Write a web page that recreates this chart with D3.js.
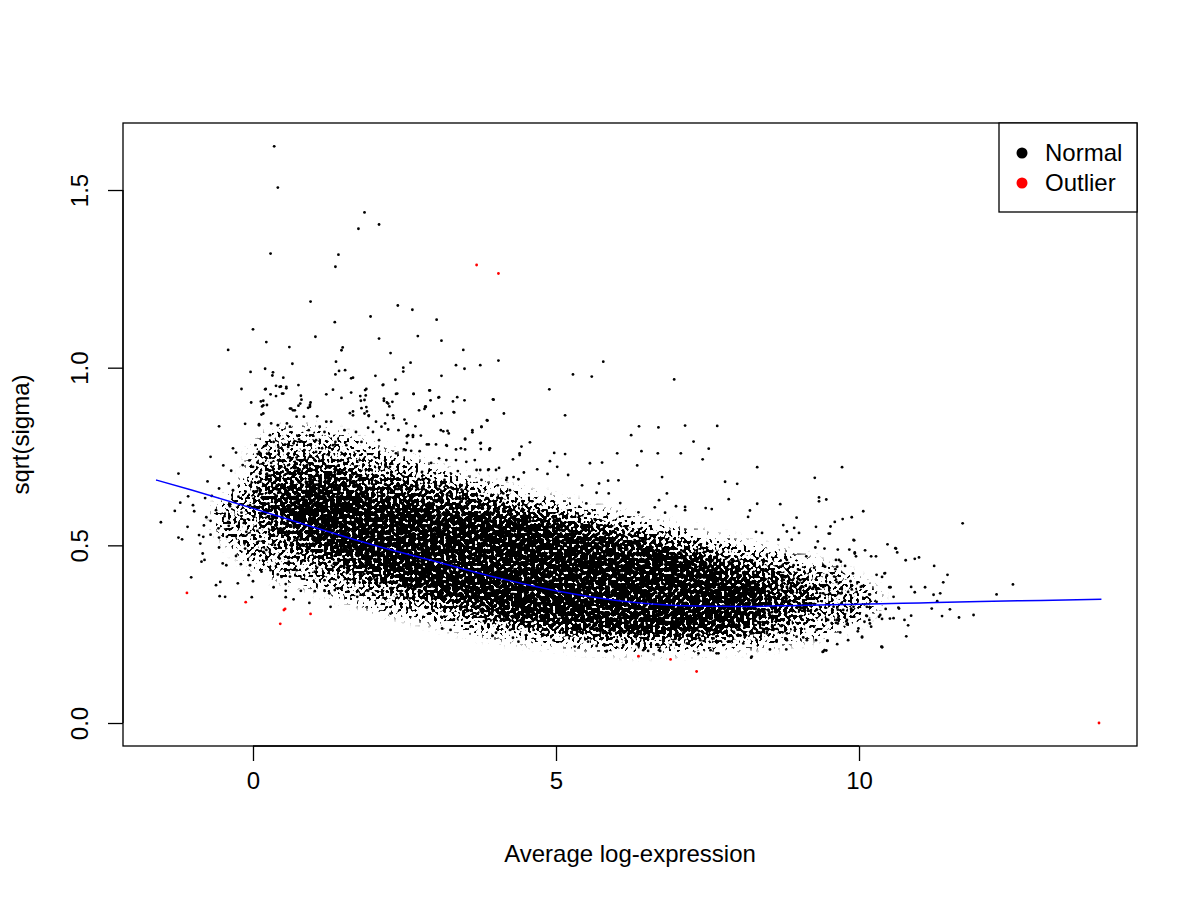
<!DOCTYPE html>
<html lang="en">
    <head>
        <meta charset="utf-8">
        <title>sqrt(sigma) vs average log-expression</title>
        <script type="text/javascript" src="https://cdn.jsdelivr.net/npm/d3@7"></script>
        <style type="text/css">
            body { margin: 0; background: #fff; }
            text { font-family: "Liberation Sans", Arial, sans-serif; fill: #000; }
        </style>
    </head>
    <body>
        <script type="text/javascript">
            //Canvas and plot box (R style margins)
            //note: "top" is taken by window.top, so the box edges get longer names
            var w = 1200;
            var h = 900;
            var boxLeft = 123, boxRight = 1137, boxTop = 123, boxBottom = 746;

            //Tick values
            var xTicks = [0, 5, 10];
            var yTicks = [0, 0.5, 1.0, 1.5];
            var yTickLabels = ["0.0", "0.5", "1.0", "1.5"];

            //Legend entries
            var legendNames = ["Normal", "Outlier"];
            var legendColors = ["#000000", "#ff0000"];

            //Fitted trend (blue line)
            var trendX = [-1.6, -1, 0, 1, 2, 3, 4, 5, 6, 7, 8, 9, 10, 11, 12, 13, 14];
            var trendY = [0.684, 0.655, 0.604, 0.551, 0.500, 0.455, 0.410, 0.372, 0.345, 0.331, 0.328, 0.331, 0.334, 0.338, 0.342, 0.345, 0.348];

            //The cloud holds thousands of genes, too many to list one by one.
            //Its crowded middle is kept as envelopes (low / high edge at each x),
            //from the thinner outer halo to the solid core.
            var outerX  = [-0.6, -0.2, 0.2, 1.0, 2.0, 3.0, 4.0, 5.0, 6.0, 7.0, 8.0, 9.0, 9.8, 10.3];
            var outerLo = [0.56, 0.48, 0.43, 0.39, 0.33, 0.29, 0.25, 0.23, 0.21, 0.21, 0.22, 0.24, 0.28, 0.33];
            var outerHi = [0.60, 0.66, 0.80, 0.82, 0.77, 0.71, 0.66, 0.62, 0.58, 0.54, 0.50, 0.46, 0.41, 0.36];

            var midX  = [0.0, 0.4, 1.0, 2.0, 3.0, 4.0, 5.0, 6.0, 7.0, 8.0, 8.8, 9.3];
            var midLo = [0.60, 0.52, 0.46, 0.39, 0.34, 0.29, 0.26, 0.24, 0.235, 0.25, 0.28, 0.33];
            var midHi = [0.64, 0.72, 0.74, 0.70, 0.67, 0.63, 0.59, 0.55, 0.51, 0.46, 0.42, 0.37];

            var coreX  = [0.5, 1.0, 1.7, 2.5, 3.5, 4.5, 5.5, 6.5, 7.3, 8.0, 8.5];
            var coreLo = [0.60, 0.52, 0.46, 0.40, 0.34, 0.29, 0.27, 0.26, 0.265, 0.28, 0.32];
            var coreHi = [0.64, 0.66, 0.645, 0.62, 0.59, 0.565, 0.53, 0.49, 0.46, 0.42, 0.37];

            //Scattered normal genes outside the crowded middle [x, y]
            var normalPts = [
                [0.35,1.623],[0.41,1.507],[1.84,1.437],[2.08,1.403],[1.74,1.391],[0.29,1.321],[1.41,1.318],[1.36,1.284],
                [0.95,1.186],[2.39,1.175],[2.63,1.163],[1.94,1.144],[3.03,1.135],[0.0,1.108],[1.35,1.128],[1.03,1.087],
                [2.08,1.082],[2.72,1.089],[3.11,1.076],[-0.41,1.05],[0.22,1.072],[0.6,1.058],[1.48,1.057],[1.46,1.049],
                [3.47,1.05],[2.27,1.041],[4.05,1.02],[3.35,1.007],[3.49,0.997],[3.75,1.007],[2.6,1.014],[1.37,1.017],
                [0.65,1.011],[-0.04,0.988],[0.2,0.997],[0.33,0.987],[0.32,0.978],[0.5,0.972],[1.36,0.981],[1.42,0.991],
                [1.52,0.993],[1.62,0.97],[1.65,0.972],[2.02,0.977],[2.35,0.966],[2.48,1.0],[2.48,0.989],[3.11,0.977],
                [4.14,0.871],[3.97,0.91],[2.14,0.951],[-0.19,0.94],
                [5.78,1.017],[5.28,0.981],[5.59,0.975],[6.95,0.967],[2.65,0.926],[2.92,0.936],[3.07,0.917],[3.3,0.905],
                [3.37,0.917],[3.49,0.908],[3.96,0.911],[4.89,0.939],[2.74,0.88],[2.85,0.889],[2.98,0.863],[3.11,0.872],
                [3.31,0.875],[5.15,0.866],[3.87,0.851],[2.5,0.854],[2.68,0.835],[3.1,0.824],[3.21,0.822],[3.62,0.824],
                [3.77,0.833],[2.54,0.807],[2.64,0.805],[2.77,0.809],[3.5,0.8],[6.37,0.835],[6.69,0.832],[7.13,0.837],
                [6.24,0.81],[7.27,0.792],[4.57,0.79],[4.43,0.778],[3.75,0.787],[2.49,0.77],[2.61,0.766],[2.9,0.784],
                [3.02,0.784],[3.2,0.78],[3.43,0.773],[3.9,0.769],[4.4,0.754],[4.97,0.76],[5.15,0.757],[6.01,0.759],
                [6.41,0.765],[6.68,0.759],[7.06,0.759],[5.56,0.731],[5.76,0.733],[6.34,0.725],[4.9,0.737],[6.75,0.692],
                [6.03,0.683],[5.71,0.674],[5.86,0.682],[6.83,0.646],[4.69,0.714],[4.86,0.701],[5.02,0.721],[5.2,0.698],
                [4.3,0.692],[4.06,0.718],[4.19,0.69],[3.75,0.712],[3.89,0.714],[4.47,0.705],[6.7,0.627],[6.98,0.61],
                [7.13,0.608],[6.63,0.607],[6.06,0.619],[6.36,0.593],[6.8,0.592],[7.13,0.599],[5.5,0.618],[5.67,0.648],
                [5.43,0.669],[5.87,0.646],
                [7.66,0.836],[7.52,0.772],[7.42,0.742],[8.32,0.72],[9.72,0.72],[9.27,0.69],[7.79,0.679],[7.99,0.673],
                [7.85,0.63],[8.32,0.617],[8.7,0.616],[9.34,0.635],[9.34,0.624],[9.46,0.629],[10.07,0.596],[8.2,0.598],
                [7.47,0.605],[7.57,0.602],[8.17,0.58],[8.97,0.578],[9.88,0.579],[9.73,0.574],[9.6,0.566],[9.29,0.552],
                [8.75,0.557],[8.93,0.549],[8.81,0.539],[9.01,0.535],[9.52,0.533],[8.3,0.538],[8.4,0.535],[8.67,0.516],
                [8.89,0.516],[9.32,0.511],[9.92,0.514],[9.28,0.494],[9.43,0.491],[9.65,0.488],[9.84,0.488],[10.1,0.486],
                [10.47,0.503],[10.61,0.491],[10.28,0.469],[9.93,0.477],[9.67,0.459],[9.13,0.469],[8.81,0.459],[8.92,0.444],
                [9.26,0.437],[9.42,0.442],[9.61,0.433],[9.9,0.421],[10.29,0.417],[10.43,0.422],[10.5,0.382],[10.05,0.385],
                [9.88,0.376],[9.71,0.365],[9.41,0.383],[9.26,0.383],[9.08,0.383],[8.86,0.379],[8.67,0.374],[10.18,0.362],
                [10.29,0.341],[10.57,0.355],[10.65,0.325],[10.12,0.302],[10.17,0.29],[10.38,0.293],[10.33,0.299],[9.8,0.278],
                [9.65,0.28],[9.49,0.29],[9.98,0.258],[10.05,0.243],[9.82,0.233],[9.64,0.222],[9.48,0.232],[9.29,0.233],
                [9.08,0.241],[8.8,0.207],[8.53,0.207],[8.22,0.184],[9.43,0.205],[9.4,0.2],[10.38,0.214],[7.55,0.205],
                [7.68,0.196],[7.35,0.196],[6.72,0.203],[6.52,0.203],[5.83,0.201],[5.67,0.217],
                [11.71,0.562],[9.53,0.553],[9.5,0.533],[9.91,0.515],[10.6,0.492],[10.63,0.48],[10.77,0.458],[10.92,0.462],
                [10.99,0.466],[11.24,0.442],[11.46,0.417],[12.54,0.39],[12.27,0.362],[10.38,0.411],[10.42,0.421],[10.52,0.382],
                [10.86,0.383],[10.92,0.368],[11.09,0.382],[11.23,0.361],[11.34,0.365],[11.39,0.396],[11.29,0.343],[11.5,0.32],
                [11.37,0.301],[11.65,0.297],[11.89,0.304],[11.2,0.322],[10.86,0.302],[10.81,0.275],[10.75,0.29],[10.57,0.295],
                [10.44,0.321],[10.66,0.322],[10.78,0.244],[10.38,0.213],[10.05,0.241],[10.09,0.285],[10.2,0.271],[10.13,0.301],
                [9.62,0.282],[9.79,0.286],[9.69,0.255],[9.46,0.204],[9.48,0.231],[10.09,0.334],[9.87,0.322],[9.65,0.319],
                [9.41,0.365],[9.63,0.397],[9.71,0.381],[9.86,0.399],[10.03,0.383],[10.17,0.362],[9.64,0.44],[9.77,0.442],
                [9.62,0.459],[9.7,0.454],[9.95,0.469],[10.2,0.469],[9.93,0.48],[9.44,0.44],[9.47,0.416],[9.59,0.412],
                [-1.23,0.702],[-1.52,0.565],[-1.29,0.597],[-1.07,0.638],[-1.2,0.62],[-0.99,0.613],[-0.97,0.596],[-1.23,0.522],
                [-1.17,0.517],[-1.08,0.552],[-1.02,0.41],[-0.75,0.68],[-0.7,0.749],[-0.79,0.633],[-0.81,0.556],[-0.77,0.579],
                [-0.7,0.569],[-0.89,0.529],[-0.82,0.524],[-0.87,0.505],[-0.7,0.53],[-0.83,0.477],[-0.85,0.454],[-0.8,0.459],
                [-0.56,0.835],[-0.49,0.725],[-0.68,0.639],[-0.56,0.66],[-0.61,0.599],[-0.57,0.548],[-0.56,0.522],[-0.56,0.494],
                [-0.43,0.524],[-0.47,0.582],[-0.38,0.61],[-0.41,0.566],[-0.4,0.555],[-0.36,0.71],[-0.33,0.773],[-0.28,0.761],
                [-0.4,0.674],[-0.33,0.655],[-0.5,0.449],[-0.44,0.444],[-0.54,0.397],[-0.61,0.388],[-0.55,0.357],[-0.46,0.355],
                [-0.25,0.393],[-0.28,0.47],[-0.2,0.447],[-0.14,0.505],[-0.13,0.491],[-0.13,0.842],[-0.03,0.902],[-0.17,0.726],
                [-0.24,0.637],[-0.19,0.592],[-0.15,0.563],[-0.11,0.538],[-0.06,0.739],[-0.05,0.613],[0.0,0.721],[0.06,0.693],
                [0.1,0.679],[0.08,0.66],[0.04,0.782],[0.08,0.757],[0.1,0.838],[0.13,0.905],[0.17,0.894],[0.23,0.895],
                [0.21,0.94],[0.38,0.949],[0.48,0.927],[0.29,0.925],[0.75,0.951],[-0.05,0.444],[-0.07,0.416],[0.0,0.399],
                [-0.02,0.354],[0.07,0.508],[0.07,0.541],[0.18,0.48],[0.22,0.487],[0.36,0.501],[0.29,0.43],[0.14,0.426],
                [0.41,0.418],[0.34,0.382],[0.54,0.372],[0.54,0.354],[0.67,0.348],[0.79,0.372],[0.93,0.338],[1.02,0.371],
                [1.18,0.373],[1.26,0.365],[1.28,0.327],[0.54,0.391],[0.47,0.411],[0.61,0.412],[0.72,0.43],[0.44,0.463],
                [0.59,0.454],[0.8,0.454],[1.02,0.426],[1.18,0.402],[1.35,0.374],[1.72,0.355],[1.9,0.372],[2.27,0.308],
                [2.45,0.327],[2.6,0.324],[2.59,0.351],
                [0.2,0.939],[0.46,0.947],[0.55,0.942],[0.38,0.92],[0.5,0.927],[0.17,0.907],[0.15,0.891],[0.14,0.868],
                [0.61,0.885],[0.66,0.88],[0.79,0.921],[0.8,0.91],[0.75,0.893],[0.95,0.902],[0.94,0.89],[0.91,0.887],
                [1.06,0.863],[1.21,0.925],[1.32,0.938],[1.46,0.915],[1.62,0.93],[1.78,0.907],[1.79,0.886],[1.86,0.922],
                [1.87,0.94],[1.87,0.889],[1.88,0.877],[1.91,0.866],[1.6,0.872],[1.65,0.877],[2.16,0.913],[2.21,0.902],
                [2.3,0.904],[2.25,0.891],[2.22,0.867],[2.32,0.858],[2.36,0.926],[2.65,0.926],[2.83,0.884],[2.85,0.891],
                [2.91,0.936],[2.93,0.908],[3.06,0.916],
                [0.44,0.946],[0.55,0.946],[0.63,0.885],[0.69,0.88],[0.78,0.899],[0.94,0.895],[1.77,0.92],[1.85,0.937],
                [1.84,0.909],[2.15,0.952],[2.38,0.927],[2.16,0.907],[2.23,0.899],
                [0.1,0.841],[0.17,0.871],[0.3,0.843],[0.41,0.838],[0.56,0.843],[0.61,0.834],[0.72,0.862],[0.84,0.862],
                [0.92,0.824],[1.1,0.834],[1.18,0.819],[1.21,0.848],[1.29,0.848],[1.32,0.782],[1.51,0.824],[1.65,0.866],
                [1.7,0.819],[1.84,0.871],[1.91,0.864],[1.9,0.831],[1.98,0.819],[2.03,0.848],[2.12,0.834],[2.18,0.843],
                [2.23,0.826],[2.31,0.866],[2.4,0.824],[2.53,0.843],[2.56,0.81],[2.64,0.81],[2.79,0.707],[2.75,0.765],
                [2.52,0.768],[2.54,0.788],[2.36,0.759],[2.26,0.721],[2.08,0.796],[1.79,0.791],[1.76,0.74],[1.54,0.782],
                [1.36,0.791],[1.25,0.754],[1.14,0.773],[1.04,0.796],[0.85,0.768],[0.76,0.798],[0.67,0.787],[0.58,0.777],
                [0.42,0.777],[0.34,0.791],[0.28,0.81],[0.21,0.781],[0.1,0.763],[0.26,0.76],[0.42,0.766],[0.61,0.745],
                [0.72,0.747],[1.04,0.763],[1.02,0.74],[0.89,0.726],[0.77,0.714],[0.58,0.704],[0.47,0.721],[0.17,0.731],
                [0.23,0.702],[0.3,0.732],
                [2.84,0.89],[2.98,0.864],[3.32,0.874],[3.86,0.852],[3.77,0.834],[3.62,0.818],[3.14,0.821],[3.23,0.815],
                [3.5,0.798],[3.76,0.788],[3.91,0.773],[2.87,0.784],[3.19,0.782],[3.35,0.77],[3.5,0.77],[3.66,0.74],
                [3.76,0.771],[4.4,0.759],[4.29,0.742],[4.18,0.684],[4.38,0.686],[4.24,0.655],[4.01,0.712],[3.88,0.712],
                [3.69,0.712],[3.52,0.735],[3.35,0.74],[3.19,0.74],[3.07,0.745],[2.94,0.732],[3.38,0.709],[3.77,0.684],
                [4.04,0.669],[4.13,0.646],[3.16,0.684],[3.27,0.663],[3.44,0.657],
                [2.97,0.316],[3.12,0.266],[3.26,0.262],[3.59,0.271],[3.81,0.287],[3.95,0.245],[4.01,0.254],[4.29,0.24],
                [4.38,0.229],[4.24,0.262],[3.16,0.299],[3.3,0.29],[3.63,0.308],[4.07,0.299],
                [4.79,0.25],[4.96,0.233],[5.31,0.215],[5.53,0.229],[5.18,0.248],[4.63,0.262],[4.19,0.271],[6.11,0.219],
                [6.33,0.222],[6.69,0.219],[6.94,0.229],[7.16,0.224],[7.38,0.233],[7.6,0.238],[7.87,0.229],[8.09,0.224],
                [8.31,0.233],[8.64,0.229],[8.81,0.252],[8.48,0.257],[8.23,0.252],
                [9.96,0.369],[9.82,0.369],[9.69,0.365],[9.52,0.365],[9.36,0.365],[9.19,0.383],[9.03,0.402],[8.86,0.421],
                [8.7,0.44],[8.64,0.397],[8.81,0.383],[9.58,0.327],[9.74,0.318],[9.91,0.327],[10.13,0.327],[10.35,0.304],
                [10.51,0.294],[10.18,0.28],[9.99,0.266],[9.8,0.29],[9.63,0.29],[9.47,0.29],[9.3,0.262],[9.14,0.233],
                [8.97,0.243],[8.81,0.233],[8.64,0.233],[8.48,0.252],[9.41,0.201],[10.37,0.215],[8.23,0.187],[7.65,0.196],
                [5.84,0.203],[5.82,0.219],[6.44,0.205],[6.7,0.205]
            ];

            //Outlier genes (red)
            var outlierPts = [
                [-1.09,0.366],[-0.12,0.34],[0.51,0.318],[0.53,0.321],[0.45,0.279],[0.95,0.307],
                [3.69,1.289],[4.05,1.265],[6.36,0.188],[6.89,0.179],[7.32,0.145],[13.96,0.0]
            ];

            var svg = d3.select("body")
                        .append("svg")
                        .attr("width", w)
                        .attr("height", h);

            //Grainy fill for the crowded cloud: soften the envelopes, then
            //let a fine noise decide which pixels stay black, so thin parts look speckled
            var defs = svg.append("defs");
            var grain = defs.append("filter")
                .attr("id", "grain")
                .attr("x", "-5%").attr("y", "-10%")
                .attr("width", "110%").attr("height", "120%")
                .attr("color-interpolation-filters", "sRGB");
            grain.append("feGaussianBlur")
                .attr("in", "SourceGraphic")
                .attr("stdDeviation", 6)
                .attr("result", "soft");
            grain.append("feTurbulence")
                .attr("type", "fractalNoise")
                .attr("baseFrequency", 0.32)
                .attr("numOctaves", 1)
                .attr("seed", 7)
                .attr("result", "noise");
            grain.append("feColorMatrix")
                .attr("in", "noise")
                .attr("type", "matrix")
                .attr("values", "0 0 0 0 0  0 0 0 0 0  0 0 0 0 0  0 0 0 3 -1")
                .attr("result", "speck");
            grain.append("feComposite")
                .attr("in", "soft")
                .attr("in2", "speck")
                .attr("operator", "arithmetic")
                .attr("k1", 0).attr("k2", 7).attr("k3", -7).attr("k4", 0);

            //Scales, with R's 4% padding around the data range
            var xScale = d3.scaleLinear()
                            .domain([-2.145, 14.587])
                            .range([boxLeft, boxRight]);

            var yScale = d3.scaleLinear()
                            .domain([-0.0647, 1.6886])
                            .range([boxBottom, boxTop]);

            var plot = svg.append("g");

            //Crowded middle of the cloud
            function envelope(xs, lo, hi) {
                return xs.map(function(x, i) { return [x, lo[i], hi[i]]; });
            }

            var band = d3.area()
                        .curve(d3.curveCatmullRom)
                        .x(function(d) { return xScale(d[0]); })
                        .y0(function(d) { return yScale(d[1]); })
                        .y1(function(d) { return yScale(d[2]); });

            var cloud = plot.append("g")
                .attr("filter", "url(#grain)");

            cloud.append("path")
                .datum(envelope(outerX, outerLo, outerHi))
                .attr("d", band)
                .attr("fill", "#000")
                .attr("fill-opacity", 0.42);

            cloud.append("path")
                .datum(envelope(midX, midLo, midHi))
                .attr("d", band)
                .attr("fill", "#000")
                .attr("fill-opacity", 0.55);

            cloud.append("path")
                .datum(envelope(coreX, coreLo, coreHi))
                .attr("d", band)
                .attr("fill", "#000")
                .attr("fill-opacity", 1);

            //Individual points
            plot.selectAll("circle.normal")
                .data(normalPts)
                .enter()
                .append("circle")
                .attr("class", "normal")
                .attr("cx", function(d) { return xScale(d[0]); })
                .attr("cy", function(d) { return yScale(d[1]); })
                .attr("r", 1.4)
                .attr("fill", "#000");

            plot.selectAll("circle.outlier")
                .data(outlierPts)
                .enter()
                .append("circle")
                .attr("class", "outlier")
                .attr("cx", function(d) { return xScale(d[0]); })
                .attr("cy", function(d) { return yScale(d[1]); })
                .attr("r", 1.4)
                .attr("fill", "#ff0000");

            //Trend line
            var trend = d3.line()
                        .curve(d3.curveMonotoneX)
                        .x(function(d) { return xScale(d); })
                        .y(function(d, i) { return yScale(trendY[i]); });

            plot.append("path")
                .datum(trendX)
                .attr("d", trend)
                .attr("fill", "none")
                .attr("stroke", "#0000ff")
                .attr("stroke-width", 1.5);

            //Box round the plot
            svg.append("rect")
                .attr("x", boxLeft)
                .attr("y", boxTop)
                .attr("width", boxRight - boxLeft)
                .attr("height", boxBottom - boxTop)
                .attr("fill", "none")
                .attr("stroke", "#000")
                .attr("stroke-width", 1.3);

            //Axes, R style (line spans first to last tick)
            var xAxis = d3.axisBottom(xScale)
                            .tickValues(xTicks)
                            .tickSize(15)
                            .tickPadding(11)
                            .tickSizeOuter(0);

            var yAxis = d3.axisLeft(yScale)
                            .tickValues(yTicks)
                            .tickSize(15)
                            .tickSizeOuter(0)
                            .tickFormat(function(d, i) { return yTickLabels[i]; });

            var gx = svg.append("g")
                .attr("transform", "translate(0," + boxBottom + ")")
                .call(xAxis);
            gx.select(".domain")
                .attr("d", "M" + xScale(xTicks[0]) + ",0H" + xScale(xTicks[xTicks.length - 1]));

            var gy = svg.append("g")
                .attr("transform", "translate(" + boxLeft + ",0)")
                .call(yAxis);
            gy.select(".domain")
                .attr("d", "M0," + yScale(yTicks[0]) + "V" + yScale(yTicks[yTicks.length - 1]));

            svg.selectAll(".domain, .tick line")
                .attr("stroke", "#000")
                .attr("stroke-width", 1.3);

            gx.selectAll("text")
                .attr("font-size", "24px")
                .attr("font-family", "Liberation Sans, Arial, sans-serif")
                .attr("fill", "#000");

            //Rotated y tick labels, reading upwards
            gy.selectAll(".tick text")
                .attr("x", null)
                .attr("dy", null)
                .attr("text-anchor", "middle")
                .attr("transform", "translate(-35,0) rotate(-90)")
                .attr("font-size", "24px")
                .attr("font-family", "Liberation Sans, Arial, sans-serif")
                .attr("fill", "#000");

            //Axis titles
            svg.append("text")
                .attr("x", (boxLeft + boxRight) / 2)
                .attr("y", 862)
                .attr("text-anchor", "middle")
                .attr("font-size", "24px")
                .text("Average log-expression");

            svg.append("text")
                .attr("transform", "translate(29," + ((boxTop + boxBottom) / 2) + ") rotate(-90)")
                .attr("text-anchor", "middle")
                .attr("font-size", "24px")
                .text("sqrt(sigma)");

            //Legend
            var legend = svg.append("g");

            legend.append("rect")
                .attr("x", 999)
                .attr("y", boxTop)
                .attr("width", boxRight - 999)
                .attr("height", 89)
                .attr("fill", "#fff")
                .attr("stroke", "#000")
                .attr("stroke-width", 1.3);

            legend.selectAll("circle")
                .data(legendNames)
                .enter()
                .append("circle")
                .attr("cx", 1022)
                .attr("cy", function(d, i) { return 153 + i * 30; })
                .attr("r", 5.5)
                .attr("fill", function(d, i) { return legendColors[i]; });

            legend.selectAll("text")
                .data(legendNames)
                .enter()
                .append("text")
                .attr("x", 1045)
                .attr("y", function(d, i) { return 153 + i * 30; })
                .attr("dy", "0.35em")
                .attr("font-size", "24px")
                .text(function(d) { return d; });
        </script>
    </body>
</html>
